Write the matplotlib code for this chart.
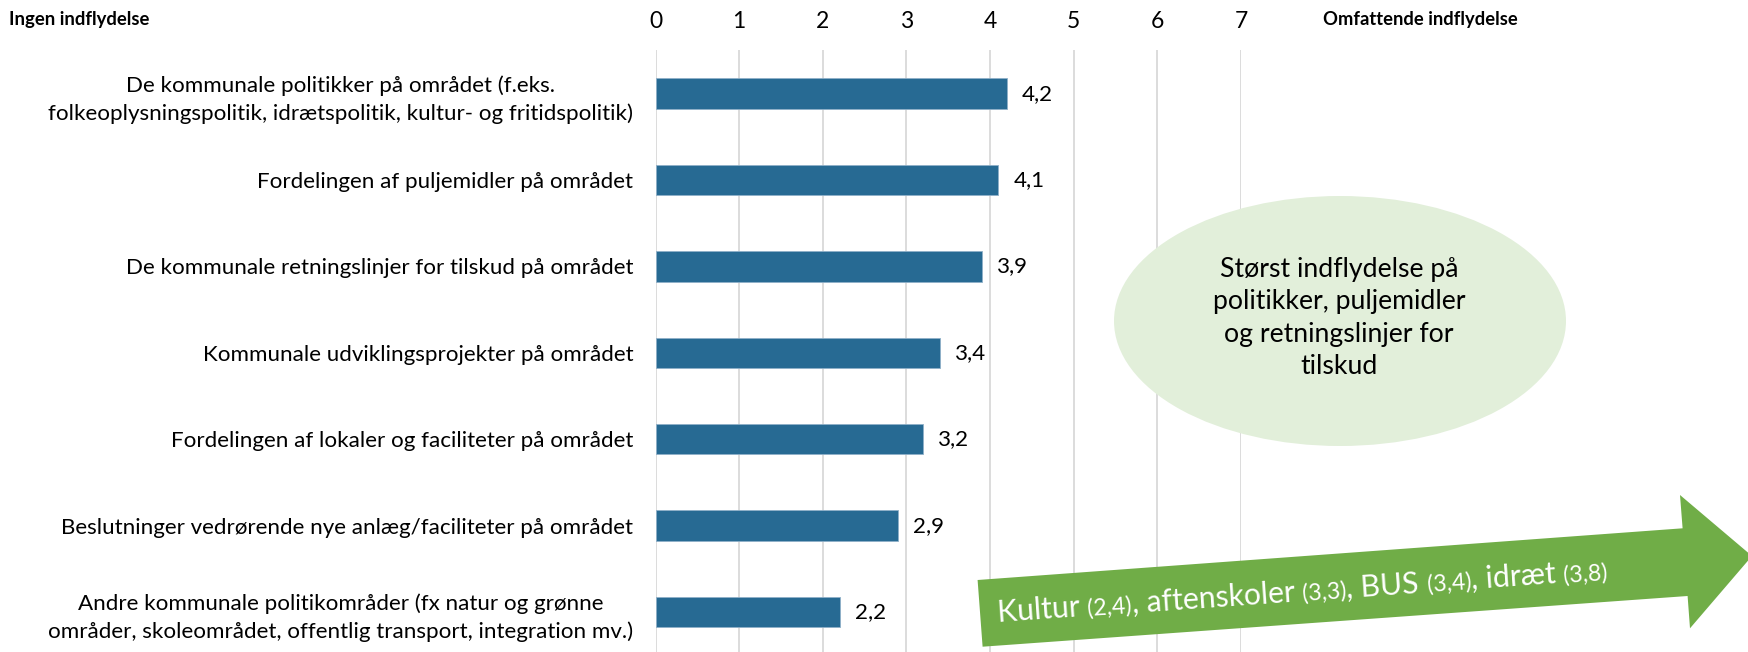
import numpy as np
import matplotlib
matplotlib.use("Agg")
import matplotlib.pyplot as plt
from matplotlib.patches import Ellipse, Polygon

# ---------------- data ----------------
categories = [
    "De kommunale politikker på området (f.eks.\nfolkeoplysningspolitik, idrætspolitik, kultur- og fritidspolitik)",
    "Fordelingen af puljemidler på området",
    "De kommunale retningslinjer for tilskud på området",
    "Kommunale udviklingsprojekter på området",
    "Fordelingen af lokaler og faciliteter på området",
    "Beslutninger vedrørende nye anlæg/faciliteter på området",
    "Andre kommunale politikområder (fx natur og grønne\nområder, skoleområdet, offentlig transport, integration mv.)",
]
values = [4.2, 4.1, 3.9, 3.4, 3.2, 2.9, 2.2]
x_ticks = [0, 1, 2, 3, 4, 5, 6, 7]
left_title = "Ingen indflydelse"
right_title = "Omfattende indflydelse"
ellipse_text = "Størst indflydelse på\npolitikker, puljemidler\nog retningslinjer for\ntilskud"
arrow_groups = ["Kultur", "aftenskoler", "BUS", "idræt"]
arrow_values = [2.4, 3.3, 3.4, 3.8]

FONT = "Lato"
BAR_COLOR = "#276A93"
GRID_COLOR = "#D9D9D9"

W, H = 1748, 652
fig = plt.figure(figsize=(W / 100, H / 100), dpi=100)

def fx(px):
    return px / W

def fy(py):
    return 1 - py / H

# axes geometry (pixels measured from reference)
ax_left, ax_right = 655.5, 1241.0
ax_top, ax_bottom = 50.4, 655.2
ax = fig.add_axes([fx(ax_left), fy(ax_bottom), fx(ax_right - ax_left), (ax_bottom - ax_top) / H])

y = np.arange(len(categories))
ax.barh(y, values, height=0.35, color=BAR_COLOR, edgecolor="#8FB0C8", linewidth=0.6, zorder=3)
ax.set_xlim(0, 7)
ax.set_ylim(len(categories) - 0.5, -0.5)

for xv in x_ticks:
    ax.axvline(xv, color=GRID_COLOR, linewidth=1.3, zorder=1)

for s in ax.spines.values():
    s.set_visible(False)

ax.xaxis.tick_top()
ax.set_xticks(x_ticks)
ax.set_xticklabels([str(t) for t in x_ticks], fontsize=16.5, family=FONT)
ax.tick_params(axis="x", length=0, pad=13)

ax.set_yticks(y)
ax.set_yticklabels(categories, fontsize=16.1, family=FONT)
ax.tick_params(axis="y", length=0, pad=16)
for lab in ax.get_yticklabels():
    lab.set_multialignment("center")
    lab.set_linespacing(1.45)

for yi, v in zip(y, values):
    ax.annotate(f"{v:.1f}".replace(".", ","), xy=(v, yi), xytext=(11, 0),
                textcoords="offset points", ha="left", va="center",
                fontsize=16.1, family=FONT, color="black")

fig.text(fx(9), fy(20), left_title, ha="left", va="center", fontsize=13.3,
         fontweight="bold", family=FONT)
fig.text(fx(1323), fy(20), right_title, ha="left", va="center", fontsize=13.2,
         fontweight="bold", family=FONT)

# ellipse callout
ell = Ellipse((fx(1340), fy(321)), width=fx(452), height=250 / H,
              transform=fig.transFigure, facecolor="#E2EFDA", edgecolor="none", zorder=5)
fig.add_artist(ell)
fig.text(fx(1339), fy(318), ellipse_text, ha="center", va="center", fontsize=19.2,
         family=FONT, linespacing=1.38, zorder=6)

# green arrow
arrow_px = [(982.6, 646.7), (977.6, 580.0), (1682.6, 528.3), (1680.0, 495.0),
            (1752.0, 556.0), (1690.0, 628.3), (1687.6, 596.0)]
arrow = Polygon([(fx(px), fy(py)) for px, py in arrow_px], closed=True,
                transform=fig.transFigure, facecolor="#70AD47", edgecolor="none", zorder=5)
fig.add_artist(arrow)

# arrow text, composed of pieces along a rotated baseline
angle = 4.0
theta = np.deg2rad(angle)
pieces = []
for i, (g, v) in enumerate(zip(arrow_groups, arrow_values)):
    prefix = "" if i == 0 else ", "
    pieces.append((prefix + g + " ", 21.7))
    pieces.append(("(" + f"{v:.1f}".replace(".", ",") + ")", 16.7))

fig.canvas.draw()
renderer = fig.canvas.get_renderer()

def text_width(s, size):
    t = fig.text(0, 0, s, fontsize=size, family=FONT)
    w = t.get_window_extent(renderer).width
    t.remove()
    return w

x0, y0 = 998.0, 622.0  # baseline start (pixels from top-left)
cur = 0.0
for txt, size in pieces:
    px = x0 + cur * np.cos(theta)
    py = y0 - cur * np.sin(theta)
    fig.text(fx(px), fy(py), txt, fontsize=size, family=FONT, color="white",
             ha="left", va="baseline", rotation=angle, rotation_mode="anchor", zorder=7)
    # width including trailing spaces (measured between bar markers)
    bar = text_width("|", size)
    w = text_width("|" + txt + "|", size) - 2 * bar
    cur += w

fig.savefig("out.png", dpi=100)
